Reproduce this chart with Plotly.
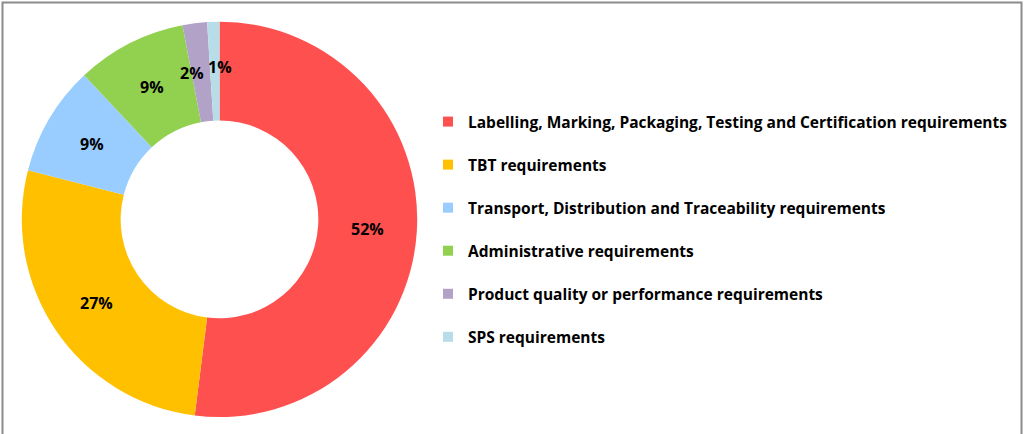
import math
import plotly.graph_objects as go

categories = [
    "Labelling, Marking, Packaging, Testing and Certification requirements",
    "TBT requirements",
    "Transport, Distribution and Traceability requirements",
    "Administrative requirements",
    "Product quality or performance requirements",
    "SPS requirements",
]
shares = [52, 27, 9, 9, 2, 1]
colors = ["#FF5050", "#FFC000", "#99CCFF", "#92D050", "#B3A2C7", "#B7DEE8"]

W, H = 1025, 434
FONT = "Open Sans"

# donut geometry (pixels)
CX, CY, R = 219.5, 219.4, 197.7
HOLE = 0.5

fig = go.Figure()
fig.add_trace(go.Pie(
    labels=categories,
    values=shares,
    marker=dict(colors=colors, line=dict(width=0)),
    hole=HOLE,
    sort=False,
    direction="clockwise",
    rotation=0,
    textinfo="none",
    domain=dict(x=[(CX - R) / W, (CX + R) / W], y=[1 - (CY + R) / H, 1 - (CY - R) / H]),
    showlegend=False,
    hoverinfo="label+percent",
))

# percentage labels placed at the mid-radius of each slice (as in the source)
total = sum(shares)
rmid = R * (1 + HOLE) / 2
annotations = []
cum = 0.0
# the two tiny-slice labels are pushed apart in the source
label_nudge = {4: (-9, 1), 5: (5, -4)}
for i, v in enumerate(shares):
    mid = (cum + v / 2) / total
    cum += v
    ang = 2 * math.pi * mid  # clockwise from top
    px = CX + rmid * math.sin(ang)
    py = CY - rmid * math.cos(ang)
    dx, dy = label_nudge.get(i, (0, 0))
    px += dx
    py += dy
    annotations.append(dict(
        x=px / W, y=1 - py / H, xref="paper", yref="paper",
        text=f"{v}%", showarrow=False, xanchor="center", yanchor="middle",
        font=dict(family=FONT, size=16, color="black", weight="bold"),
    ))

for name, col in zip(categories, colors):
    fig.add_trace(go.Scatter(
        x=[None], y=[None], mode="markers", name=name, legendgroup=name,
        marker=dict(symbol="square", size=10, color=col),
        showlegend=True,
    ))

fig.update_layout(
    width=W, height=H,
    margin=dict(l=0, r=0, t=0, b=0),
    paper_bgcolor="white", plot_bgcolor="white",
    xaxis=dict(visible=False), yaxis=dict(visible=False),
    annotations=annotations,
    legend=dict(
        x=428 / W, xanchor="left",
        y=1 - 105 / H, yanchor="top",
        tracegroupgap=19.9,
        font=dict(family=FONT, size=15.5, color="black", weight="bold"),
        bgcolor="rgba(0,0,0,0)",
    ),
    shapes=[dict(
        type="rect", xref="paper", yref="paper",
        x0=2.5 / W, x1=1021.5 / W, y0=-0.05, y1=1 - 2.5 / H,
        line=dict(color="#8c8c8c", width=2), fillcolor="rgba(0,0,0,0)",
    )],
)

fig.write_html(
    "out.html",
    config={"displayModeBar": False},
    post_script="document.body.style.margin='0';document.body.style.overflow='hidden';",
)
